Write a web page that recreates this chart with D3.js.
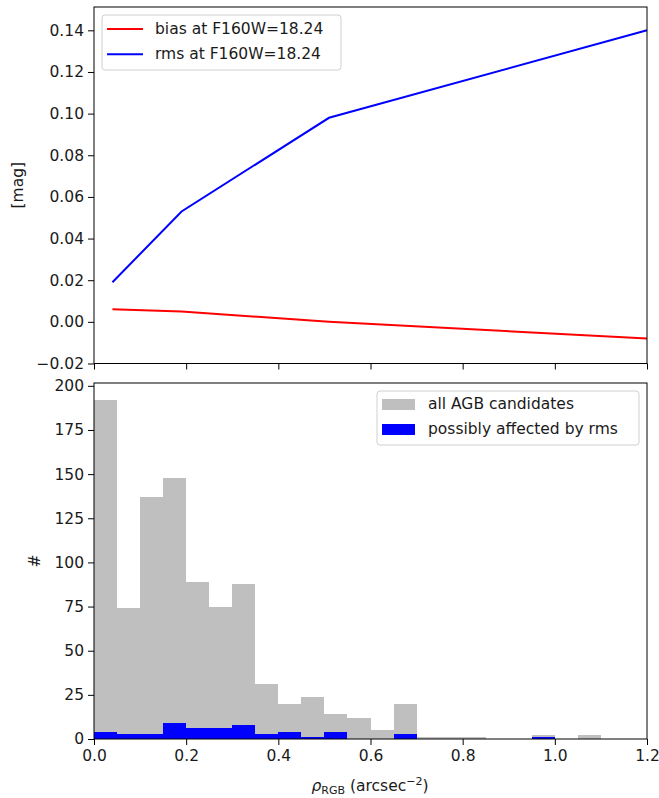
<!DOCTYPE html>
<html>
<head>
<meta charset="utf-8">
<script src="https://cdn.jsdelivr.net/npm/d3@7"></script>
<style>
  html, body { margin: 0; padding: 0; background: #fff; }
  svg { display: block; font-family: "DejaVu Sans", sans-serif; }
</style>
</head>
<body>
<svg id="chart" width="659" height="798"></svg>
<script>
// Photometric bias / rms as a function of RGB stellar density
const densityPoints = [0.04, 0.19, 0.51, 1.2];
const biasValues = [0.006, 0.005, 0.000, -0.008];
const rmsValues = [0.019, 0.053, 0.098, 0.140];
const lineLabels = ["bias at F160W=18.24", "rms at F160W=18.24"];
const lineColors = ["#ff0000", "#0000ff"];

// Histogram of AGB candidates in density bins of width 0.05
const binWidth = 0.05;
const binStarts = [0.00, 0.05, 0.10, 0.15, 0.20, 0.25, 0.30, 0.35, 0.40, 0.45, 0.50,
                   0.55, 0.60, 0.65, 0.70, 0.75, 0.80, 0.85, 0.90, 0.95, 1.00, 1.05];
const allCounts = [192, 74, 137, 148, 89, 75, 88, 31, 20, 24, 14,
                   12, 5, 20, 1, 1, 1, 0, 0, 2, 0, 2];
const affectedCounts = [4, 3, 3, 9, 6, 6, 8, 3, 4, 1, 4,
                        0, 0, 3, 0, 0, 0, 0, 0, 1, 0, 0];
const histLabels = ["all AGB candidates", "possibly affected by rms"];
const histColors = ["#bfbfbf", "#0000ff"];

// Tick values
const xTicks = [0.0, 0.2, 0.4, 0.6, 0.8, 1.0, 1.2];
const topYTicks = [-0.02, 0.00, 0.02, 0.04, 0.06, 0.08, 0.10, 0.12, 0.14];
const bottomYTicks = [0, 25, 50, 75, 100, 125, 150, 175, 200];

const svg = d3.select("#chart");
const left = 94, right = 647;
const top1 = 7, bottom1 = 363.5;
const top2 = 383, bottom2 = 739;
const fontSize = 15.5;
const textColor = "#1a1a1a";
const minus = s => s.replace("-", "\u2212");

const x = d3.scaleLinear().domain([0, 1.2]).range([left, right]);
const y1 = d3.scaleLinear().domain([-0.02, 0.1512]).range([bottom1, top1]);
const y2 = d3.scaleLinear().domain([0, 201.6]).range([bottom2, top2]);

function styleAxis(g) {
  g.selectAll(".domain").remove();
  g.selectAll(".tick line").attr("stroke", "#000").attr("stroke-width", 1);
  g.selectAll(".tick text").attr("fill", textColor).attr("font-size", fontSize)
    .attr("font-family", "DejaVu Sans, sans-serif");
}

// ---------- top panel: lines ----------
const p1 = svg.append("g");
const line = d3.line().x((d, i) => x(densityPoints[i])).y(d => y1(d));
[biasValues, rmsValues].forEach((vals, k) => {
  p1.append("path").datum(vals)
    .attr("d", line)
    .attr("fill", "none")
    .attr("stroke", lineColors[k])
    .attr("stroke-width", 2);
});

p1.append("g").attr("transform", `translate(0,${bottom1})`)
  .call(d3.axisBottom(x).tickValues(xTicks).tickSize(6).tickFormat(""))
  .call(styleAxis);
p1.append("g").attr("transform", `translate(${left},0)`)
  .call(d3.axisLeft(y1).tickValues(topYTicks).tickSize(6).tickPadding(4)
    .tickFormat(d => minus(d3.format(".2f")(d))))
  .call(styleAxis);
p1.append("rect").attr("x", left).attr("y", top1)
  .attr("width", right - left).attr("height", bottom1 - top1)
  .attr("fill", "none").attr("stroke", "#000").attr("stroke-width", 1);

p1.append("text")
  .attr("transform", `translate(18,${(top1 + bottom1) / 2}) rotate(-90)`)
  .attr("text-anchor", "middle").attr("dominant-baseline", "central")
  .attr("font-size", fontSize).attr("fill", textColor).text("[mag]");

// legend for lines
const lg1 = p1.append("g");
lg1.append("rect").attr("x", 102).attr("y", 15).attr("width", 239).attr("height", 55)
  .attr("rx", 3).attr("fill", "#fff").attr("fill-opacity", 0.8)
  .attr("stroke", "#d0d0d0").attr("stroke-width", 1);
lineLabels.forEach((lab, k) => {
  const yy = 29 + k * 25.3;
  lg1.append("line").attr("x1", 107).attr("x2", 143).attr("y1", yy).attr("y2", yy)
    .attr("stroke", lineColors[k]).attr("stroke-width", 2);
  lg1.append("text").attr("x", 155).attr("y", yy).attr("dominant-baseline", "central")
    .attr("font-size", fontSize).attr("fill", textColor).text(lab);
});

// ---------- bottom panel: histograms ----------
const p2 = svg.append("g");
[allCounts, affectedCounts].forEach((counts, k) => {
  p2.append("g").selectAll("rect")
    .data(counts.map((c, i) => ({ x0: binStarts[i], c })).filter(d => d.c > 0))
    .join("rect")
    .attr("x", d => x(d.x0))
    .attr("width", d => x(d.x0 + binWidth) - x(d.x0))
    .attr("y", d => y2(d.c))
    .attr("height", d => y2(0) - y2(d.c))
    .attr("fill", histColors[k])
    .attr("shape-rendering", "crispEdges");
});

p2.append("g").attr("transform", `translate(0,${bottom2})`)
  .call(d3.axisBottom(x).tickValues(xTicks).tickSize(6).tickPadding(5)
    .tickFormat(d3.format(".1f")))
  .call(styleAxis);
p2.append("g").attr("transform", `translate(${left},0)`)
  .call(d3.axisLeft(y2).tickValues(bottomYTicks).tickSize(6).tickPadding(4))
  .call(styleAxis);
p2.append("rect").attr("x", left).attr("y", top2)
  .attr("width", right - left).attr("height", bottom2 - top2)
  .attr("fill", "none").attr("stroke", "#000").attr("stroke-width", 1);

p2.append("text")
  .attr("transform", `translate(35,${(top2 + bottom2) / 2}) rotate(-90)`)
  .attr("text-anchor", "middle").attr("dominant-baseline", "central")
  .attr("font-size", fontSize).attr("fill", textColor).text("#");

// x-axis label: rho_RGB (arcsec^-2)
const xl = p2.append("text")
  .attr("x", 370).attr("y", 791)
  .attr("text-anchor", "middle").attr("font-size", fontSize).attr("fill", textColor);
xl.append("tspan").attr("font-style", "italic").text("\u03c1");
xl.append("tspan").attr("font-size", 11).attr("dy", 3).text("RGB");
xl.append("tspan").attr("dy", -3).text(" (arcsec");
xl.append("tspan").attr("font-size", 11).attr("dy", -6).text("\u22122");
xl.append("tspan").attr("dy", 6).text(")");

// legend for histograms
const lg2 = p2.append("g");
lg2.append("rect").attr("x", 377).attr("y", 391).attr("width", 262).attr("height", 54)
  .attr("rx", 3).attr("fill", "#fff").attr("fill-opacity", 0.8)
  .attr("stroke", "#d0d0d0").attr("stroke-width", 1);
histLabels.forEach((lab, k) => {
  const yy = 404 + k * 25;
  lg2.append("rect").attr("x", 382).attr("y", yy - 5).attr("width", 33).attr("height", 11)
    .attr("fill", histColors[k]);
  lg2.append("text").attr("x", 428).attr("y", yy).attr("dominant-baseline", "central")
    .attr("font-size", fontSize).attr("fill", textColor).text(lab);
});
</script>
</body>
</html>
